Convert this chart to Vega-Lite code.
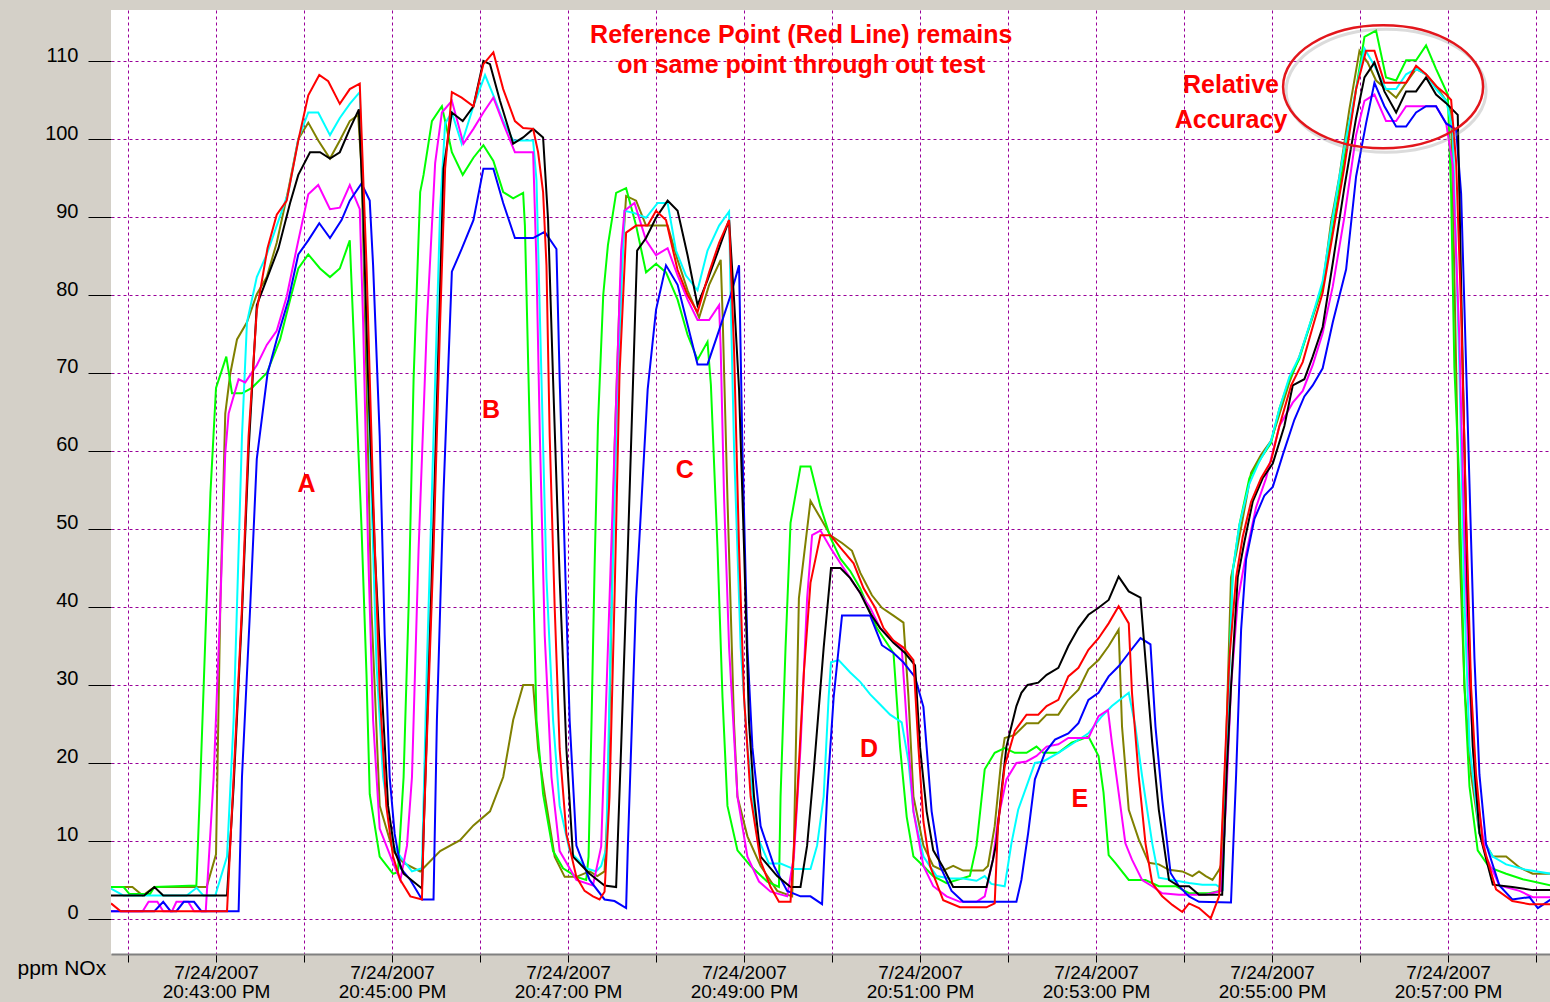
{
"$schema": "https://vega.github.io/schema/vega-lite/v6.json",
"width": 1439, "height": 944,
"autosize": {"type": "none"},
"padding": {"left": 111, "top": 10, "right": 0, "bottom": 48},
"background": "#d4d0c8",
"view": {"fill": "#ffffff", "stroke": null},
"datasets": {
"lines": [
{"c":"olive","t":-11.6,"v":4.1},{"c":"olive","t":3,"v":4.1},{"c":"olive","t":10,"v":3},{"c":"olive","t":18,"v":4.1},{"c":"olive","t":53.6,"v":4.1},{"c":"olive","t":60,"v":8.3},{"c":"olive","t":62.9,"v":40},{"c":"olive","t":66.3,"v":64.8},{"c":"olive","t":69.7,"v":69.9},{"c":"olive","t":74.3,"v":74.3},{"c":"olive","t":81.1,"v":76.5},{"c":"olive","t":87.8,"v":80.1},{"c":"olive","t":94.6,"v":82.3},{"c":"olive","t":101.4,"v":86.7},{"c":"olive","t":109.4,"v":93.6},{"c":"olive","t":116.1,"v":100},{"c":"olive","t":122.9,"v":102.1},{"c":"olive","t":129.7,"v":99.8},{"c":"olive","t":137.7,"v":97.5},{"c":"olive","t":144.4,"v":99.8},{"c":"olive","t":151.2,"v":102.3},{"c":"olive","t":156.9,"v":103.1},{"c":"olive","t":159.2,"v":96.2},{"c":"olive","t":162.6,"v":69.2},{"c":"olive","t":165.9,"v":40},{"c":"olive","t":171.6,"v":14.5},{"c":"olive","t":180.7,"v":8.7},{"c":"olive","t":187.9,"v":7.2},{"c":"olive","t":199.2,"v":6.1},{"c":"olive","t":212.8,"v":8.7},{"c":"olive","t":226.4,"v":10.1},{"c":"olive","t":235.5,"v":12},{"c":"olive","t":246.8,"v":13.8},{"c":"olive","t":255.8,"v":18.2},{"c":"olive","t":262.6,"v":25.5},{"c":"olive","t":269.4,"v":30},{"c":"olive","t":276.2,"v":30},{"c":"olive","t":279.6,"v":21.8},{"c":"olive","t":284.1,"v":16},{"c":"olive","t":290.9,"v":8},{"c":"olive","t":297.7,"v":5.4},{"c":"olive","t":305.7,"v":5.4},{"c":"olive","t":314.7,"v":6.1},{"c":"olive","t":320,"v":5.5},{"c":"olive","t":324.9,"v":6.1},{"c":"olive","t":327.2,"v":15},{"c":"olive","t":331.7,"v":60.3},{"c":"olive","t":335.1,"v":79.4},{"c":"olive","t":339.6,"v":92.7},{"c":"olive","t":346.4,"v":92.1},{"c":"olive","t":353.2,"v":88.9},{"c":"olive","t":367.9,"v":88.9},{"c":"olive","t":374.7,"v":84.5},{"c":"olive","t":381.5,"v":80.6},{"c":"olive","t":389.4,"v":77.1},{"c":"olive","t":396.2,"v":81.3},{"c":"olive","t":404.1,"v":84.5},{"c":"olive","t":405.3,"v":78},{"c":"olive","t":408.7,"v":53.9},{"c":"olive","t":413.2,"v":25},{"c":"olive","t":415.5,"v":15.7},{"c":"olive","t":422.3,"v":10.6},{"c":"olive","t":431.3,"v":6.8},{"c":"olive","t":442.6,"v":3.6},{"c":"olive","t":452.8,"v":2.9},{"c":"olive","t":454,"v":9.4},{"c":"olive","t":457.4,"v":41.1},{"c":"olive","t":465.3,"v":53.6},{"c":"olive","t":472.1,"v":51.4},{"c":"olive","t":478.9,"v":49.2},{"c":"olive","t":486.8,"v":48.2},{"c":"olive","t":493.6,"v":47.2},{"c":"olive","t":499.2,"v":44.4},{"c":"olive","t":507.2,"v":41.5},{"c":"olive","t":514,"v":39.9},{"c":"olive","t":521.9,"v":38.9},{"c":"olive","t":528.7,"v":38},{"c":"olive","t":532.1,"v":28.5},{"c":"olive","t":535.5,"v":15.7},{"c":"olive","t":542.3,"v":9.4},{"c":"olive","t":549,"v":6.8},{"c":"olive","t":555.8,"v":6.2},{"c":"olive","t":562.6,"v":6.8},{"c":"olive","t":569.4,"v":6.2},{"c":"olive","t":583,"v":6.2},{"c":"olive","t":586.3,"v":6.8},{"c":"olive","t":590.9,"v":11.9},{"c":"olive","t":595.4,"v":20.4},{"c":"olive","t":597.7,"v":23.2},{"c":"olive","t":604.6,"v":23.6},{"c":"olive","t":612.6,"v":25.1},{"c":"olive","t":620.6,"v":25.1},{"c":"olive","t":626.3,"v":26.2},{"c":"olive","t":634.3,"v":26.2},{"c":"olive","t":641.1,"v":28.1},{"c":"olive","t":648,"v":29.4},{"c":"olive","t":654.8,"v":32},{"c":"olive","t":661.7,"v":33.2},{"c":"olive","t":668.6,"v":35},{"c":"olive","t":675.4,"v":37.1},{"c":"olive","t":677.7,"v":24.7},{"c":"olive","t":682.3,"v":14},{"c":"olive","t":689.1,"v":10.2},{"c":"olive","t":696,"v":7.2},{"c":"olive","t":702.8,"v":7},{"c":"olive","t":709.7,"v":6.3},{"c":"olive","t":718.8,"v":6.1},{"c":"olive","t":725.7,"v":5.5},{"c":"olive","t":730.2,"v":6.1},{"c":"olive","t":734.8,"v":5.5},{"c":"olive","t":739.4,"v":5},{"c":"olive","t":743.9,"v":6.3},{"c":"olive","t":745.2,"v":6.9},{"c":"olive","t":748.6,"v":22.2},{"c":"olive","t":752,"v":43.8},{"c":"olive","t":755.5,"v":46.8},{"c":"olive","t":760,"v":51.3},{"c":"olive","t":765.7,"v":57.2},{"c":"olive","t":772.5,"v":59.5},{"c":"olive","t":779.3,"v":61.3},{"c":"olive","t":785,"v":64.7},{"c":"olive","t":791.8,"v":68.8},{"c":"olive","t":798.6,"v":72.1},{"c":"olive","t":805.5,"v":75.9},{"c":"olive","t":814.5,"v":81.1},{"c":"olive","t":820.2,"v":89.3},{"c":"olive","t":825.9,"v":95.2},{"c":"olive","t":832.7,"v":103.8},{"c":"olive","t":839.6,"v":111.3},{"c":"olive","t":845.2,"v":109.8},{"c":"olive","t":850.9,"v":107.5},{"c":"olive","t":857.7,"v":106.4},{"c":"olive","t":864.6,"v":105.3},{"c":"olive","t":871.4,"v":107.2},{"c":"olive","t":878.2,"v":109},{"c":"olive","t":885,"v":108.3},{"c":"olive","t":891.8,"v":106.8},{"c":"olive","t":898.7,"v":104.9},{"c":"olive","t":902.1,"v":103.4},{"c":"olive","t":903.2,"v":93},{"c":"olive","t":905.5,"v":70.7},{"c":"olive","t":907.7,"v":48.3},{"c":"olive","t":911.2,"v":29.7},{"c":"olive","t":915.7,"v":18.5},{"c":"olive","t":921.4,"v":11},{"c":"olive","t":930.5,"v":8},{"c":"olive","t":939.6,"v":8},{"c":"olive","t":948.7,"v":6.6},{"c":"olive","t":957.7,"v":5.8},{"c":"olive","t":970,"v":5.8},

{"c":"green","t":-11.6,"v":4.1},{"c":"green","t":-3,"v":4.1},{"c":"green","t":1,"v":3.2},{"c":"green","t":15,"v":3.2},{"c":"green","t":18,"v":4.1},{"c":"green","t":46.6,"v":4.3},{"c":"green","t":49.4,"v":18.2},{"c":"green","t":52.8,"v":36.4},{"c":"green","t":56.2,"v":54.6},{"c":"green","t":60,"v":68.1},{"c":"green","t":67,"v":72.1},{"c":"green","t":70.9,"v":67.4},{"c":"green","t":77.7,"v":67.4},{"c":"green","t":84.5,"v":68.1},{"c":"green","t":94.6,"v":70},{"c":"green","t":103.7,"v":74.3},{"c":"green","t":110.5,"v":79.4},{"c":"green","t":116.1,"v":83.4},{"c":"green","t":122.9,"v":85.2},{"c":"green","t":130.9,"v":83.4},{"c":"green","t":137.7,"v":82.3},{"c":"green","t":144.4,"v":83.4},{"c":"green","t":151.2,"v":87},{"c":"green","t":153.5,"v":76.5},{"c":"green","t":159.2,"v":50.2},{"c":"green","t":162.6,"v":31.3},{"c":"green","t":164.8,"v":16},{"c":"green","t":171.6,"v":8},{"c":"green","t":180.7,"v":5.8},{"c":"green","t":184,"v":6},{"c":"green","t":187.9,"v":18.2},{"c":"green","t":191.3,"v":40},{"c":"green","t":194.7,"v":69.2},{"c":"green","t":199.2,"v":93.2},{"c":"green","t":201.5,"v":95.4},{"c":"green","t":207.2,"v":102.3},{"c":"green","t":214,"v":104.2},{"c":"green","t":220.8,"v":98.3},{"c":"green","t":228.2,"v":95.4},{"c":"green","t":235.5,"v":97.6},{"c":"green","t":242.3,"v":99.2},{"c":"green","t":249.1,"v":97.2},{"c":"green","t":255.8,"v":93.2},{"c":"green","t":262.6,"v":92.4},{"c":"green","t":269.4,"v":93.1},{"c":"green","t":270.6,"v":88.9},{"c":"green","t":274,"v":61.9},{"c":"green","t":276.2,"v":43.7},{"c":"green","t":278.5,"v":25.5},{"c":"green","t":283,"v":16},{"c":"green","t":289.8,"v":8.7},{"c":"green","t":296.6,"v":6.5},{"c":"green","t":305.7,"v":5.4},{"c":"green","t":312.4,"v":5},{"c":"green","t":314,"v":8},{"c":"green","t":316,"v":25},{"c":"green","t":318.1,"v":45},{"c":"green","t":320.4,"v":63.4},{"c":"green","t":324,"v":80},{"c":"green","t":327.2,"v":86.4},{"c":"green","t":332.8,"v":93.1},{"c":"green","t":339.6,"v":93.7},{"c":"green","t":346.4,"v":88.9},{"c":"green","t":353.2,"v":82.9},{"c":"green","t":360,"v":84},{"c":"green","t":366.8,"v":82.9},{"c":"green","t":374.7,"v":79.4},{"c":"green","t":381.5,"v":74.9},{"c":"green","t":388.3,"v":71.7},{"c":"green","t":395.1,"v":74},{"c":"green","t":397.4,"v":68.5},{"c":"green","t":401.9,"v":47.6},{"c":"green","t":405.3,"v":28.5},{"c":"green","t":408.7,"v":14.5},{"c":"green","t":415.5,"v":8.8},{"c":"green","t":424.5,"v":6.8},{"c":"green","t":435.8,"v":4.8},{"c":"green","t":443.8,"v":4.1},{"c":"green","t":444.9,"v":15.7},{"c":"green","t":448.3,"v":34.8},{"c":"green","t":451.7,"v":50.8},{"c":"green","t":458.5,"v":58},{"c":"green","t":465.3,"v":58},{"c":"green","t":472.1,"v":52.9},{"c":"green","t":478.9,"v":48.9},{"c":"green","t":485.7,"v":46.2},{"c":"green","t":492.4,"v":44.6},{"c":"green","t":499.2,"v":42.4},{"c":"green","t":510.6,"v":37.3},{"c":"green","t":521.9,"v":34.1},{"c":"green","t":526.4,"v":22},{"c":"green","t":530.9,"v":13.1},{"c":"green","t":535.5,"v":8},{"c":"green","t":542.3,"v":6.8},{"c":"green","t":549,"v":5.5},{"c":"green","t":558.1,"v":4.6},{"c":"green","t":574,"v":5.5},{"c":"green","t":578.5,"v":9.4},{"c":"green","t":584.1,"v":19.2},{"c":"green","t":590.9,"v":21.3},{"c":"green","t":597.7,"v":21.9},{"c":"green","t":604.6,"v":21.3},{"c":"green","t":612.6,"v":21.3},{"c":"green","t":619.4,"v":22.1},{"c":"green","t":624,"v":21.3},{"c":"green","t":634.3,"v":21.3},{"c":"green","t":643.4,"v":22.6},{"c":"green","t":654.8,"v":23.4},{"c":"green","t":661.7,"v":20.9},{"c":"green","t":665.1,"v":16.2},{"c":"green","t":668.6,"v":8.2},{"c":"green","t":673.1,"v":7.2},{"c":"green","t":682.3,"v":5},{"c":"green","t":693.7,"v":5},{"c":"green","t":702.8,"v":4.2},{"c":"green","t":714.3,"v":4.2},{"c":"green","t":723.4,"v":3.3},{"c":"green","t":737.1,"v":3.3},{"c":"green","t":744.1,"v":3.6},{"c":"green","t":747.5,"v":11},{"c":"green","t":750.9,"v":33.4},{"c":"green","t":753.2,"v":44.6},{"c":"green","t":757.7,"v":50.5},{"c":"green","t":764.5,"v":56.5},{"c":"green","t":772.5,"v":59.1},{"c":"green","t":779.3,"v":61},{"c":"green","t":785,"v":65.4},{"c":"green","t":791.8,"v":69.2},{"c":"green","t":798.6,"v":71.8},{"c":"green","t":807.7,"v":77.4},{"c":"green","t":814.5,"v":81.1},{"c":"green","t":821.4,"v":88.5},{"c":"green","t":829.3,"v":97.5},{"c":"green","t":837.3,"v":106.4},{"c":"green","t":843,"v":113.1},{"c":"green","t":850.9,"v":113.9},{"c":"green","t":857.7,"v":107.9},{"c":"green","t":864.6,"v":107.5},{"c":"green","t":871.4,"v":110.1},{"c":"green","t":878.2,"v":110.1},{"c":"green","t":885,"v":112},{"c":"green","t":891.8,"v":109},{"c":"green","t":899.8,"v":105.7},{"c":"green","t":902.1,"v":93},{"c":"green","t":904.3,"v":70.7},{"c":"green","t":907.7,"v":55.8},{"c":"green","t":911.2,"v":29.7},{"c":"green","t":914.6,"v":17},{"c":"green","t":920.2,"v":8.8},{"c":"green","t":928.2,"v":6.6},{"c":"green","t":939.6,"v":5.8},{"c":"green","t":950.9,"v":5.1},{"c":"green","t":970,"v":4.3},

{"c":"cyan","t":-11.6,"v":3.9},{"c":"cyan","t":-3,"v":3},{"c":"cyan","t":40,"v":3},{"c":"cyan","t":46.8,"v":4},{"c":"cyan","t":51.4,"v":3},{"c":"cyan","t":59.5,"v":3},{"c":"cyan","t":67.5,"v":8},{"c":"cyan","t":72,"v":25.5},{"c":"cyan","t":77.7,"v":61.9},{"c":"cyan","t":81.1,"v":76.5},{"c":"cyan","t":87.8,"v":82.3},{"c":"cyan","t":94.6,"v":85.2},{"c":"cyan","t":101.4,"v":88.9},{"c":"cyan","t":109.4,"v":93.2},{"c":"cyan","t":116.1,"v":100},{"c":"cyan","t":122.9,"v":103.4},{"c":"cyan","t":129.7,"v":103.4},{"c":"cyan","t":137.7,"v":100.5},{"c":"cyan","t":144.4,"v":102.7},{"c":"cyan","t":151.2,"v":104.5},{"c":"cyan","t":158,"v":106},{"c":"cyan","t":160.3,"v":91},{"c":"cyan","t":164.8,"v":61.9},{"c":"cyan","t":169.4,"v":32.7},{"c":"cyan","t":173.9,"v":18.2},{"c":"cyan","t":180.7,"v":9.4},{"c":"cyan","t":185.7,"v":8},{"c":"cyan","t":193.6,"v":6.1},{"c":"cyan","t":200.4,"v":6.5},{"c":"cyan","t":203.8,"v":32.7},{"c":"cyan","t":208.3,"v":61.9},{"c":"cyan","t":212.8,"v":91},{"c":"cyan","t":216.2,"v":102},{"c":"cyan","t":220.8,"v":103.4},{"c":"cyan","t":227.5,"v":99.4},{"c":"cyan","t":235.5,"v":104.2},{"c":"cyan","t":243.4,"v":108.2},{"c":"cyan","t":249.1,"v":105.6},{"c":"cyan","t":255.8,"v":102.3},{"c":"cyan","t":262.6,"v":99.8},{"c":"cyan","t":276.2,"v":99.8},{"c":"cyan","t":278.5,"v":94.7},{"c":"cyan","t":281.9,"v":69.2},{"c":"cyan","t":285.3,"v":43.7},{"c":"cyan","t":289.8,"v":25.5},{"c":"cyan","t":294.3,"v":14.5},{"c":"cyan","t":301.1,"v":8.7},{"c":"cyan","t":312.4,"v":6.5},{"c":"cyan","t":319.2,"v":6.1},{"c":"cyan","t":322.6,"v":6.8},{"c":"cyan","t":326,"v":9},{"c":"cyan","t":329,"v":35},{"c":"cyan","t":334,"v":69},{"c":"cyan","t":338.5,"v":90.8},{"c":"cyan","t":345.3,"v":90.5},{"c":"cyan","t":353.2,"v":89.9},{"c":"cyan","t":361.1,"v":91.8},{"c":"cyan","t":367.9,"v":91.8},{"c":"cyan","t":373.6,"v":85.7},{"c":"cyan","t":380.4,"v":82.5},{"c":"cyan","t":388.3,"v":80.6},{"c":"cyan","t":395.1,"v":85.7},{"c":"cyan","t":403,"v":88.9},{"c":"cyan","t":409.8,"v":90.7},{"c":"cyan","t":410.9,"v":79.4},{"c":"cyan","t":413.2,"v":60.3},{"c":"cyan","t":417.7,"v":34.8},{"c":"cyan","t":422.3,"v":22},{"c":"cyan","t":429,"v":10.6},{"c":"cyan","t":437,"v":7.1},{"c":"cyan","t":444.9,"v":7.1},{"c":"cyan","t":454,"v":6.4},{"c":"cyan","t":465.3,"v":6.4},{"c":"cyan","t":469.8,"v":9.4},{"c":"cyan","t":474.3,"v":15.7},{"c":"cyan","t":477.7,"v":28.5},{"c":"cyan","t":479.3,"v":32.9},{"c":"cyan","t":484.5,"v":33.2},{"c":"cyan","t":492.4,"v":31.6},{"c":"cyan","t":499.2,"v":30.4},{"c":"cyan","t":506,"v":28.8},{"c":"cyan","t":512.8,"v":27.5},{"c":"cyan","t":519.6,"v":26.2},{"c":"cyan","t":527.5,"v":25.2},{"c":"cyan","t":532.1,"v":20.2},{"c":"cyan","t":535.5,"v":13.8},{"c":"cyan","t":542.3,"v":8},{"c":"cyan","t":551.3,"v":5.5},{"c":"cyan","t":560.4,"v":5.2},{"c":"cyan","t":569.4,"v":5.2},{"c":"cyan","t":578.5,"v":4.9},{"c":"cyan","t":584.1,"v":5.5},{"c":"cyan","t":588.6,"v":4.5},{"c":"cyan","t":597.7,"v":4.2},{"c":"cyan","t":602.3,"v":9.7},{"c":"cyan","t":606.9,"v":14},{"c":"cyan","t":612.6,"v":17},{"c":"cyan","t":618.3,"v":20},{"c":"cyan","t":624,"v":20.2},{"c":"cyan","t":634.3,"v":21.3},{"c":"cyan","t":643.4,"v":22.4},{"c":"cyan","t":654.8,"v":23.8},{"c":"cyan","t":664,"v":26},{"c":"cyan","t":670.8,"v":27.3},{"c":"cyan","t":682.3,"v":29},{"c":"cyan","t":686.8,"v":24.7},{"c":"cyan","t":691.4,"v":18.3},{"c":"cyan","t":698.3,"v":9.7},{"c":"cyan","t":702.8,"v":5.3},{"c":"cyan","t":712,"v":5},{"c":"cyan","t":723.4,"v":4.6},{"c":"cyan","t":732.5,"v":4.4},{"c":"cyan","t":741.7,"v":4.4},{"c":"cyan","t":746.4,"v":3.8},{"c":"cyan","t":749.8,"v":26},{"c":"cyan","t":753.2,"v":44.6},{"c":"cyan","t":757.7,"v":50.5},{"c":"cyan","t":764.5,"v":55.8},{"c":"cyan","t":771.4,"v":58.7},{"c":"cyan","t":779.3,"v":61.3},{"c":"cyan","t":785,"v":65.4},{"c":"cyan","t":791.8,"v":69.5},{"c":"cyan","t":798.6,"v":72.1},{"c":"cyan","t":807.7,"v":77.4},{"c":"cyan","t":814.5,"v":81.8},{"c":"cyan","t":821.4,"v":90},{"c":"cyan","t":829.3,"v":99},{"c":"cyan","t":837.3,"v":106.4},{"c":"cyan","t":843,"v":111.6},{"c":"cyan","t":849.8,"v":109.4},{"c":"cyan","t":857.7,"v":106.4},{"c":"cyan","t":864.6,"v":106.4},{"c":"cyan","t":871.4,"v":108.3},{"c":"cyan","t":878.2,"v":109},{"c":"cyan","t":885,"v":108.3},{"c":"cyan","t":891.8,"v":106.4},{"c":"cyan","t":898.7,"v":104.9},{"c":"cyan","t":903.2,"v":101.2},{"c":"cyan","t":907.7,"v":70.7},{"c":"cyan","t":911.2,"v":40.8},{"c":"cyan","t":914.6,"v":22.2},{"c":"cyan","t":921.4,"v":11},{"c":"cyan","t":930.5,"v":8},{"c":"cyan","t":939.6,"v":7},{"c":"cyan","t":953.2,"v":6.3},{"c":"cyan","t":970,"v":5.8},

{"c":"magenta","t":-11.6,"v":1},{"c":"magenta","t":10,"v":1},{"c":"magenta","t":14,"v":2.2},{"c":"magenta","t":20,"v":2.2},{"c":"magenta","t":24,"v":1},{"c":"magenta","t":30,"v":1},{"c":"magenta","t":33,"v":2.2},{"c":"magenta","t":41,"v":2.2},{"c":"magenta","t":45,"v":1},{"c":"magenta","t":53,"v":1},{"c":"magenta","t":58.4,"v":18.2},{"c":"magenta","t":62.9,"v":40},{"c":"magenta","t":66.3,"v":59.7},{"c":"magenta","t":68.6,"v":64.8},{"c":"magenta","t":75.4,"v":69.2},{"c":"magenta","t":79.9,"v":68.8},{"c":"magenta","t":87.8,"v":71},{"c":"magenta","t":94.6,"v":73.6},{"c":"magenta","t":101.4,"v":75.4},{"c":"magenta","t":108.2,"v":79.8},{"c":"magenta","t":115,"v":86},{"c":"magenta","t":122.9,"v":92.9},{"c":"magenta","t":129.7,"v":94.1},{"c":"magenta","t":137.7,"v":91},{"c":"magenta","t":144.4,"v":91.2},{"c":"magenta","t":151.2,"v":94.1},{"c":"magenta","t":158,"v":91},{"c":"magenta","t":160.3,"v":76.5},{"c":"magenta","t":163.7,"v":47.3},{"c":"magenta","t":167.1,"v":25.5},{"c":"magenta","t":171.6,"v":11.6},{"c":"magenta","t":180.7,"v":7.2},{"c":"magenta","t":185.7,"v":5},{"c":"magenta","t":190.2,"v":9.4},{"c":"magenta","t":193.6,"v":18.2},{"c":"magenta","t":198.1,"v":47.3},{"c":"magenta","t":203.8,"v":76.5},{"c":"magenta","t":209.4,"v":96.9},{"c":"magenta","t":214,"v":103.4},{"c":"magenta","t":220.8,"v":104.9},{"c":"magenta","t":228.7,"v":99.4},{"c":"magenta","t":235.5,"v":101.3},{"c":"magenta","t":242.3,"v":103.4},{"c":"magenta","t":249.1,"v":105.3},{"c":"magenta","t":255.8,"v":102},{"c":"magenta","t":263.8,"v":98.3},{"c":"magenta","t":276.2,"v":98.3},{"c":"magenta","t":278.5,"v":83.8},{"c":"magenta","t":280.8,"v":61.9},{"c":"magenta","t":284.1,"v":36.4},{"c":"magenta","t":288.7,"v":18.2},{"c":"magenta","t":294.3,"v":8.7},{"c":"magenta","t":305.7,"v":5},{"c":"magenta","t":317,"v":4.3},{"c":"magenta","t":322.6,"v":9.3},{"c":"magenta","t":327.2,"v":34.8},{"c":"magenta","t":331.7,"v":60.3},{"c":"magenta","t":336.2,"v":85.7},{"c":"magenta","t":338.5,"v":90.8},{"c":"magenta","t":345.3,"v":91.8},{"c":"magenta","t":353.2,"v":87},{"c":"magenta","t":360,"v":85.1},{"c":"magenta","t":367.9,"v":86},{"c":"magenta","t":374.7,"v":82.5},{"c":"magenta","t":381.5,"v":79.4},{"c":"magenta","t":388.3,"v":76.8},{"c":"magenta","t":396.2,"v":76.8},{"c":"magenta","t":403,"v":78.7},{"c":"magenta","t":404.1,"v":73},{"c":"magenta","t":406.4,"v":53.9},{"c":"magenta","t":409.8,"v":34.8},{"c":"magenta","t":415.5,"v":15.7},{"c":"magenta","t":422.3,"v":8},{"c":"magenta","t":430.2,"v":4.8},{"c":"magenta","t":438.1,"v":3.5},{"c":"magenta","t":449.4,"v":2.9},{"c":"magenta","t":454,"v":8},{"c":"magenta","t":458.5,"v":22},{"c":"magenta","t":463,"v":41.1},{"c":"magenta","t":466.4,"v":49.2},{"c":"magenta","t":472.1,"v":49.8},{"c":"magenta","t":478.9,"v":47.6},{"c":"magenta","t":485.7,"v":45.6},{"c":"magenta","t":492.4,"v":43.7},{"c":"magenta","t":499.2,"v":41.8},{"c":"magenta","t":506,"v":39.9},{"c":"magenta","t":512.8,"v":37.3},{"c":"magenta","t":519.6,"v":36},{"c":"magenta","t":527.5,"v":34.8},{"c":"magenta","t":530.9,"v":25.2},{"c":"magenta","t":535.5,"v":13.8},{"c":"magenta","t":542.3,"v":6.8},{"c":"magenta","t":549,"v":4.2},{"c":"magenta","t":558.1,"v":2.9},{"c":"magenta","t":567.2,"v":2.2},{"c":"magenta","t":578.5,"v":2.2},{"c":"magenta","t":584.1,"v":2.9},{"c":"magenta","t":589.7,"v":7.6},{"c":"magenta","t":593.1,"v":12.7},{"c":"magenta","t":598.9,"v":17.9},{"c":"magenta","t":605.7,"v":20},{"c":"magenta","t":612.6,"v":20.2},{"c":"magenta","t":619.4,"v":20.9},{"c":"magenta","t":626.3,"v":22.1},{"c":"magenta","t":634.3,"v":22.4},{"c":"magenta","t":641.1,"v":23.2},{"c":"magenta","t":654.8,"v":23.2},{"c":"magenta","t":661.7,"v":26},{"c":"magenta","t":668.1,"v":26.8},{"c":"magenta","t":670.8,"v":22.6},{"c":"magenta","t":675.4,"v":16.2},{"c":"magenta","t":680,"v":9.7},{"c":"magenta","t":684.5,"v":7.6},{"c":"magenta","t":691.4,"v":5},{"c":"magenta","t":698.3,"v":4.2},{"c":"magenta","t":705.1,"v":3.3},{"c":"magenta","t":716.5,"v":3.1},{"c":"magenta","t":734.8,"v":3.1},{"c":"magenta","t":745.2,"v":3.6},{"c":"magenta","t":748.6,"v":14.8},{"c":"magenta","t":752,"v":29.7},{"c":"magenta","t":756.6,"v":40.8},{"c":"magenta","t":762.3,"v":46.8},{"c":"magenta","t":769.1,"v":52.8},{"c":"magenta","t":775.9,"v":56.5},{"c":"magenta","t":785,"v":63.2},{"c":"magenta","t":794.1,"v":66.2},{"c":"magenta","t":800.9,"v":67.7},{"c":"magenta","t":807.7,"v":71},{"c":"magenta","t":814.5,"v":75.1},{"c":"magenta","t":821.4,"v":81.1},{"c":"magenta","t":829.3,"v":90},{"c":"magenta","t":837.3,"v":100.5},{"c":"magenta","t":843,"v":104.9},{"c":"magenta","t":849.8,"v":105.7},{"c":"magenta","t":857.7,"v":102.3},{"c":"magenta","t":864.6,"v":102.3},{"c":"magenta","t":871.4,"v":104.2},{"c":"magenta","t":891.8,"v":104.2},{"c":"magenta","t":898.7,"v":102},{"c":"magenta","t":903.2,"v":96.7},{"c":"magenta","t":907.7,"v":74.4},{"c":"magenta","t":911.2,"v":48.3},{"c":"magenta","t":914.6,"v":29.7},{"c":"magenta","t":919.1,"v":16.3},{"c":"magenta","t":925.9,"v":8},{"c":"magenta","t":935,"v":4.3},{"c":"magenta","t":948.7,"v":3.6},{"c":"magenta","t":957.7,"v":2.8},{"c":"magenta","t":970,"v":2.8},

{"c":"blue","t":-11.6,"v":1},{"c":"blue","t":18,"v":1},{"c":"blue","t":24,"v":2.2},{"c":"blue","t":29,"v":1},{"c":"blue","t":33,"v":1},{"c":"blue","t":38,"v":2.2},{"c":"blue","t":45,"v":2.2},{"c":"blue","t":50,"v":1},{"c":"blue","t":75.4,"v":1},{"c":"blue","t":77.7,"v":18.2},{"c":"blue","t":83.3,"v":40},{"c":"blue","t":87.8,"v":59},{"c":"blue","t":95.1,"v":69.9},{"c":"blue","t":101.4,"v":74.3},{"c":"blue","t":109.4,"v":79.4},{"c":"blue","t":116.1,"v":85.2},{"c":"blue","t":122.9,"v":87},{"c":"blue","t":130.4,"v":89.2},{"c":"blue","t":137.7,"v":87.3},{"c":"blue","t":145.6,"v":89.6},{"c":"blue","t":151.2,"v":92.1},{"c":"blue","t":159.2,"v":94.3},{"c":"blue","t":164.8,"v":92.1},{"c":"blue","t":167.1,"v":83.8},{"c":"blue","t":171.6,"v":61.9},{"c":"blue","t":175,"v":36.4},{"c":"blue","t":178.4,"v":18.2},{"c":"blue","t":181.8,"v":10.9},{"c":"blue","t":186,"v":6.5},{"c":"blue","t":192.5,"v":5},{"c":"blue","t":200.4,"v":2.5},{"c":"blue","t":208.3,"v":2.5},{"c":"blue","t":210.6,"v":25.5},{"c":"blue","t":215.1,"v":54.6},{"c":"blue","t":220.8,"v":83},{"c":"blue","t":227.5,"v":85.9},{"c":"blue","t":235.5,"v":89.6},{"c":"blue","t":242.3,"v":96.2},{"c":"blue","t":249.1,"v":96.2},{"c":"blue","t":255.8,"v":91.8},{"c":"blue","t":263.8,"v":87.3},{"c":"blue","t":276.2,"v":87.3},{"c":"blue","t":284.1,"v":88.1},{"c":"blue","t":292.1,"v":85.9},{"c":"blue","t":294.3,"v":69.2},{"c":"blue","t":297.7,"v":47.3},{"c":"blue","t":301.1,"v":25.5},{"c":"blue","t":305.7,"v":9.4},{"c":"blue","t":314.7,"v":5},{"c":"blue","t":324.9,"v":2.5},{"c":"blue","t":331.7,"v":2.3},{"c":"blue","t":339.6,"v":1.4},{"c":"blue","t":340.8,"v":9.4},{"c":"blue","t":346.4,"v":41.1},{"c":"blue","t":354.3,"v":67.9},{"c":"blue","t":360,"v":78.1},{"c":"blue","t":366.8,"v":83.8},{"c":"blue","t":374.7,"v":81.3},{"c":"blue","t":381.5,"v":76.2},{"c":"blue","t":388.3,"v":71.1},{"c":"blue","t":395.1,"v":71.1},{"c":"blue","t":403,"v":75.5},{"c":"blue","t":410.9,"v":80},{"c":"blue","t":416.6,"v":83.8},{"c":"blue","t":418.9,"v":60.3},{"c":"blue","t":422.3,"v":34.8},{"c":"blue","t":425.7,"v":22},{"c":"blue","t":431.3,"v":11.9},{"c":"blue","t":440.4,"v":6.8},{"c":"blue","t":449.4,"v":3.6},{"c":"blue","t":458.5,"v":2.9},{"c":"blue","t":465.3,"v":2.9},{"c":"blue","t":473.2,"v":1.9},{"c":"blue","t":476.6,"v":15.7},{"c":"blue","t":481.1,"v":28.4},{"c":"blue","t":486.8,"v":38.9},{"c":"blue","t":506,"v":38.9},{"c":"blue","t":514,"v":35.1},{"c":"blue","t":521.9,"v":34.1},{"c":"blue","t":528.7,"v":32.9},{"c":"blue","t":536.6,"v":31},{"c":"blue","t":542.3,"v":27.2},{"c":"blue","t":544.5,"v":22},{"c":"blue","t":547.9,"v":13.8},{"c":"blue","t":553.6,"v":6.8},{"c":"blue","t":561.5,"v":3.6},{"c":"blue","t":569.4,"v":2.2},{"c":"blue","t":605.7,"v":2.2},{"c":"blue","t":609.1,"v":5},{"c":"blue","t":613.7,"v":11},{"c":"blue","t":618.3,"v":17.9},{"c":"blue","t":625.1,"v":21.3},{"c":"blue","t":632,"v":23},{"c":"blue","t":641.1,"v":23.8},{"c":"blue","t":648,"v":25.1},{"c":"blue","t":654.8,"v":28.1},{"c":"blue","t":661.7,"v":29},{"c":"blue","t":668.6,"v":31.1},{"c":"blue","t":675.4,"v":32.4},{"c":"blue","t":682.3,"v":34.1},{"c":"blue","t":690.3,"v":36},{"c":"blue","t":697.1,"v":35.2},{"c":"blue","t":700.5,"v":24.7},{"c":"blue","t":705.1,"v":15.3},{"c":"blue","t":710.8,"v":5.9},{"c":"blue","t":716.5,"v":4.2},{"c":"blue","t":723.4,"v":2.9},{"c":"blue","t":730.2,"v":2.2},{"c":"blue","t":752,"v":2.1},{"c":"blue","t":755.5,"v":18.5},{"c":"blue","t":758.9,"v":37.1},{"c":"blue","t":762.3,"v":46.1},{"c":"blue","t":768,"v":51.3},{"c":"blue","t":774.8,"v":54.3},{"c":"blue","t":780.5,"v":55.4},{"c":"blue","t":787.3,"v":59.5},{"c":"blue","t":795.2,"v":64},{"c":"blue","t":802,"v":67},{"c":"blue","t":807.7,"v":68.4},{"c":"blue","t":814.5,"v":70.6},{"c":"blue","t":821.4,"v":76.5},{"c":"blue","t":830.5,"v":83.3},{"c":"blue","t":837.3,"v":95.2},{"c":"blue","t":844.1,"v":102},{"c":"blue","t":849.8,"v":107.2},{"c":"blue","t":856.6,"v":104.2},{"c":"blue","t":864.6,"v":101.6},{"c":"blue","t":871.4,"v":101.6},{"c":"blue","t":878.2,"v":103.4},{"c":"blue","t":885,"v":104.2},{"c":"blue","t":891.8,"v":104.2},{"c":"blue","t":898.7,"v":102},{"c":"blue","t":905.5,"v":101.2},{"c":"blue","t":908.9,"v":93},{"c":"blue","t":911.2,"v":78.1},{"c":"blue","t":914.6,"v":55.8},{"c":"blue","t":918,"v":33.4},{"c":"blue","t":921.4,"v":18.5},{"c":"blue","t":925.9,"v":9.6},{"c":"blue","t":935,"v":4.3},{"c":"blue","t":943.8,"v":2.5},{"c":"blue","t":955.5,"v":2.8},{"c":"blue","t":961.2,"v":1.4},{"c":"blue","t":970,"v":2.5},

{"c":"black","t":-11.6,"v":3},{"c":"black","t":11,"v":3},{"c":"black","t":18,"v":4.1},{"c":"black","t":24,"v":3},{"c":"black","t":67.5,"v":3},{"c":"black","t":72,"v":17},{"c":"black","t":77.7,"v":39},{"c":"black","t":82.2,"v":60},{"c":"black","t":87.8,"v":78.7},{"c":"black","t":95.1,"v":82.3},{"c":"black","t":102.6,"v":86},{"c":"black","t":110.5,"v":91.8},{"c":"black","t":116.1,"v":95.4},{"c":"black","t":124.1,"v":98.3},{"c":"black","t":130.9,"v":98.3},{"c":"black","t":137.7,"v":97.5},{"c":"black","t":144.4,"v":98.3},{"c":"black","t":151.2,"v":101.3},{"c":"black","t":157.4,"v":103.8},{"c":"black","t":160.3,"v":91},{"c":"black","t":163.7,"v":69.2},{"c":"black","t":168.2,"v":47.3},{"c":"black","t":172.7,"v":30.6},{"c":"black","t":177.3,"v":14.5},{"c":"black","t":181.8,"v":8.7},{"c":"black","t":187.9,"v":5.8},{"c":"black","t":200.4,"v":3.9},{"c":"black","t":201.5,"v":10.9},{"c":"black","t":208.3,"v":51},{"c":"black","t":215.1,"v":96.2},{"c":"black","t":220.8,"v":103.4},{"c":"black","t":228.2,"v":102.3},{"c":"black","t":235.5,"v":104.2},{"c":"black","t":242.3,"v":110},{"c":"black","t":246.8,"v":109.6},{"c":"black","t":253.6,"v":104.9},{"c":"black","t":262.6,"v":99.4},{"c":"black","t":269.4,"v":100.2},{"c":"black","t":276.2,"v":101.3},{"c":"black","t":283,"v":100.2},{"c":"black","t":286.4,"v":89.6},{"c":"black","t":289.8,"v":69.2},{"c":"black","t":294.3,"v":43.7},{"c":"black","t":298.9,"v":21.8},{"c":"black","t":303.4,"v":8},{"c":"black","t":314.7,"v":5.8},{"c":"black","t":324.9,"v":4.3},{"c":"black","t":332.8,"v":4.1},{"c":"black","t":336.2,"v":22},{"c":"black","t":340.8,"v":47.6},{"c":"black","t":347.1,"v":85.7},{"c":"black","t":353.2,"v":87.3},{"c":"black","t":360,"v":89.9},{"c":"black","t":367.9,"v":92.1},{"c":"black","t":374.7,"v":90.8},{"c":"black","t":381.5,"v":85.1},{"c":"black","t":388.3,"v":78.7},{"c":"black","t":395.1,"v":81.9},{"c":"black","t":403,"v":86},{"c":"black","t":409.8,"v":89.6},{"c":"black","t":413.2,"v":79.4},{"c":"black","t":416.6,"v":67.9},{"c":"black","t":420,"v":47.6},{"c":"black","t":423.4,"v":25.2},{"c":"black","t":426.8,"v":15.7},{"c":"black","t":431.3,"v":8},{"c":"black","t":442.6,"v":5.5},{"c":"black","t":451.7,"v":4.1},{"c":"black","t":458.5,"v":4.1},{"c":"black","t":463,"v":9.4},{"c":"black","t":467.5,"v":18.9},{"c":"black","t":474.3,"v":34.8},{"c":"black","t":479.3,"v":45},{"c":"black","t":485.7,"v":45},{"c":"black","t":492.4,"v":43.7},{"c":"black","t":499.2,"v":41.8},{"c":"black","t":506,"v":39.2},{"c":"black","t":512.8,"v":37.3},{"c":"black","t":521.9,"v":35.4},{"c":"black","t":529.8,"v":34.1},{"c":"black","t":536.6,"v":32.5},{"c":"black","t":540,"v":22},{"c":"black","t":544.5,"v":13.8},{"c":"black","t":549,"v":8.8},{"c":"black","t":555.8,"v":6.6},{"c":"black","t":562.6,"v":4.1},{"c":"black","t":585.3,"v":4.1},{"c":"black","t":589.7,"v":7.6},{"c":"black","t":592,"v":9.7},{"c":"black","t":595.4,"v":16.2},{"c":"black","t":598.9,"v":22.1},{"c":"black","t":602.3,"v":24.7},{"c":"black","t":605.7,"v":27.3},{"c":"black","t":609.1,"v":29},{"c":"black","t":613.3,"v":30},{"c":"black","t":620.6,"v":30.3},{"c":"black","t":626.3,"v":31.3},{"c":"black","t":634.3,"v":32.2},{"c":"black","t":641.1,"v":35},{"c":"black","t":648,"v":37.3},{"c":"black","t":654.8,"v":39},{"c":"black","t":661.7,"v":39.9},{"c":"black","t":668.6,"v":40.9},{"c":"black","t":675.4,"v":43.9},{"c":"black","t":682.3,"v":42},{"c":"black","t":690.3,"v":41.2},{"c":"black","t":693.7,"v":33.2},{"c":"black","t":698.3,"v":22.6},{"c":"black","t":702.8,"v":14},{"c":"black","t":709.7,"v":5},{"c":"black","t":716.5,"v":4.2},{"c":"black","t":723.4,"v":4.2},{"c":"black","t":730.2,"v":3.1},{"c":"black","t":746,"v":3.1},{"c":"black","t":749,"v":18.5},{"c":"black","t":752,"v":29.7},{"c":"black","t":756.6,"v":43.8},{"c":"black","t":761.1,"v":48.3},{"c":"black","t":766.8,"v":53.5},{"c":"black","t":773.6,"v":56.5},{"c":"black","t":780.5,"v":58.4},{"c":"black","t":788.4,"v":63.2},{"c":"black","t":794.1,"v":68.4},{"c":"black","t":802,"v":69.2},{"c":"black","t":807.7,"v":72.1},{"c":"black","t":814.5,"v":75.9},{"c":"black","t":821.4,"v":84.1},{"c":"black","t":829.3,"v":93.8},{"c":"black","t":837.3,"v":102.7},{"c":"black","t":843,"v":107.9},{"c":"black","t":849.8,"v":109.8},{"c":"black","t":856.6,"v":106.1},{"c":"black","t":864.6,"v":103.4},{"c":"black","t":871.4,"v":106.1},{"c":"black","t":878.2,"v":106.1},{"c":"black","t":885,"v":107.9},{"c":"black","t":891.8,"v":105.7},{"c":"black","t":898.7,"v":104.6},{"c":"black","t":906.6,"v":103.1},{"c":"black","t":907.7,"v":93},{"c":"black","t":910,"v":70.7},{"c":"black","t":913.4,"v":40.8},{"c":"black","t":916.8,"v":22.2},{"c":"black","t":921.4,"v":11},{"c":"black","t":930.5,"v":4.4},{"c":"black","t":943.8,"v":4.1},{"c":"black","t":957.7,"v":3.7},{"c":"black","t":970,"v":3.7},

{"c":"red","t":-11.6,"v":2},{"c":"red","t":-5,"v":1},{"c":"red","t":67.5,"v":1},{"c":"red","t":72,"v":18.2},{"c":"red","t":77.7,"v":40},{"c":"red","t":82.2,"v":61.9},{"c":"red","t":87.8,"v":78},{"c":"red","t":95.1,"v":86},{"c":"red","t":101.4,"v":90.3},{"c":"red","t":108.2,"v":92.1},{"c":"red","t":116.1,"v":99.8},{"c":"red","t":122.9,"v":105.6},{"c":"red","t":130.4,"v":108.2},{"c":"red","t":136.5,"v":107.4},{"c":"red","t":144.4,"v":104.5},{"c":"red","t":151.2,"v":106.4},{"c":"red","t":158,"v":107.1},{"c":"red","t":159.2,"v":101},{"c":"red","t":162.6,"v":83.8},{"c":"red","t":167.1,"v":54.6},{"c":"red","t":171.6,"v":29.1},{"c":"red","t":176.1,"v":14.5},{"c":"red","t":180.7,"v":8},{"c":"red","t":185.7,"v":5},{"c":"red","t":192.5,"v":2.9},{"c":"red","t":200.4,"v":2.5},{"c":"red","t":201.5,"v":10.9},{"c":"red","t":208.3,"v":47.3},{"c":"red","t":212.8,"v":76.5},{"c":"red","t":216.2,"v":96.2},{"c":"red","t":220.8,"v":106},{"c":"red","t":227.5,"v":105.3},{"c":"red","t":235.5,"v":104.2},{"c":"red","t":242.3,"v":109.6},{"c":"red","t":249.1,"v":111.1},{"c":"red","t":255.8,"v":106.4},{"c":"red","t":263.8,"v":102.3},{"c":"red","t":269.4,"v":101.4},{"c":"red","t":276.2,"v":101.3},{"c":"red","t":279.6,"v":98.3},{"c":"red","t":283,"v":93.2},{"c":"red","t":285.3,"v":83.8},{"c":"red","t":287.5,"v":61.9},{"c":"red","t":290.9,"v":40},{"c":"red","t":294.3,"v":21.8},{"c":"red","t":298.9,"v":10.9},{"c":"red","t":305.7,"v":5.4},{"c":"red","t":311.3,"v":3.6},{"c":"red","t":317,"v":2.9},{"c":"red","t":321.5,"v":2.5},{"c":"red","t":324.9,"v":3.5},{"c":"red","t":328.3,"v":15.7},{"c":"red","t":331.7,"v":41.1},{"c":"red","t":335.1,"v":69.8},{"c":"red","t":339.6,"v":88},{"c":"red","t":346.4,"v":88.9},{"c":"red","t":354.3,"v":88.9},{"c":"red","t":360,"v":90.8},{"c":"red","t":366.8,"v":89.6},{"c":"red","t":374.7,"v":83.2},{"c":"red","t":381.5,"v":80},{"c":"red","t":388.3,"v":77.8},{"c":"red","t":396.2,"v":82.9},{"c":"red","t":403,"v":86.7},{"c":"red","t":409.8,"v":89.6},{"c":"red","t":413.2,"v":73},{"c":"red","t":416.6,"v":47.5},{"c":"red","t":420,"v":28.4},{"c":"red","t":424.5,"v":15.7},{"c":"red","t":431.3,"v":7.4},{"c":"red","t":438.1,"v":4.1},{"c":"red","t":443.8,"v":2.2},{"c":"red","t":451.7,"v":2.2},{"c":"red","t":456.2,"v":15.7},{"c":"red","t":460.8,"v":31.6},{"c":"red","t":465.3,"v":43.1},{"c":"red","t":472.1,"v":49.2},{"c":"red","t":478.9,"v":49.2},{"c":"red","t":485.7,"v":47.6},{"c":"red","t":494.7,"v":45.6},{"c":"red","t":501.5,"v":42.4},{"c":"red","t":509.4,"v":39.9},{"c":"red","t":515.1,"v":37.3},{"c":"red","t":521.9,"v":35.7},{"c":"red","t":528.7,"v":34.8},{"c":"red","t":535.5,"v":33.2},{"c":"red","t":538.9,"v":22},{"c":"red","t":542.3,"v":12.5},{"c":"red","t":546.8,"v":6.8},{"c":"red","t":555.8,"v":2.4},{"c":"red","t":567.2,"v":1.5},{"c":"red","t":585.3,"v":1.5},{"c":"red","t":590.9,"v":2},{"c":"red","t":593.1,"v":11.9},{"c":"red","t":597.7,"v":19.6},{"c":"red","t":604.6,"v":24.1},{"c":"red","t":612.6,"v":26.2},{"c":"red","t":620.6,"v":26.2},{"c":"red","t":626.3,"v":27.3},{"c":"red","t":634.3,"v":28.1},{"c":"red","t":641.1,"v":31.1},{"c":"red","t":648,"v":32.2},{"c":"red","t":654.8,"v":34.5},{"c":"red","t":661.7,"v":36},{"c":"red","t":668.6,"v":37.9},{"c":"red","t":675.4,"v":40.1},{"c":"red","t":682.3,"v":37.9},{"c":"red","t":684.5,"v":29},{"c":"red","t":689.1,"v":18.3},{"c":"red","t":693.7,"v":9.7},{"c":"red","t":698.3,"v":4.6},{"c":"red","t":705.1,"v":2.9},{"c":"red","t":712,"v":1.8},{"c":"red","t":718.8,"v":0.9},{"c":"red","t":723.4,"v":2},{"c":"red","t":730.2,"v":1.4},{"c":"red","t":738.2,"v":0.1},{"c":"red","t":743.9,"v":2.9},{"c":"red","t":747.5,"v":18.5},{"c":"red","t":750.9,"v":33.4},{"c":"red","t":755.5,"v":43.8},{"c":"red","t":760,"v":49},{"c":"red","t":765.7,"v":53.5},{"c":"red","t":772.5,"v":56.5},{"c":"red","t":779.3,"v":58.7},{"c":"red","t":785,"v":63.2},{"c":"red","t":793,"v":68.4},{"c":"red","t":800.9,"v":71.4},{"c":"red","t":807.7,"v":75.9},{"c":"red","t":814.5,"v":80.3},{"c":"red","t":821.4,"v":87.8},{"c":"red","t":829.3,"v":96.4},{"c":"red","t":837.3,"v":106.4},{"c":"red","t":844.1,"v":111.3},{"c":"red","t":849.8,"v":111.3},{"c":"red","t":856.6,"v":107.2},{"c":"red","t":871.4,"v":107.2},{"c":"red","t":878.2,"v":109.4},{"c":"red","t":885,"v":108.3},{"c":"red","t":891.8,"v":106.8},{"c":"red","t":898.7,"v":105.7},{"c":"red","t":902.1,"v":105},{"c":"red","t":905.5,"v":97},{"c":"red","t":908.9,"v":78.1},{"c":"red","t":912.3,"v":52},{"c":"red","t":915.7,"v":29.7},{"c":"red","t":919.1,"v":18.5},{"c":"red","t":923.7,"v":9.6},{"c":"red","t":932.7,"v":3.8},{"c":"red","t":943.8,"v":2.3},{"c":"red","t":955.5,"v":1.9},{"c":"red","t":970,"v":1.9}
],
"notes": [
{"label":"Reference Point (Red Line) remains","t":459,"v":112.3},
{"label":"on same point through out test","t":459,"v":108.5},
{"label":"Relative","t":752,"v":105.9},
{"label":"Accuracy","t":752,"v":101.4},
{"label":"A","t":121.7,"v":54.7},
{"label":"B","t":247.5,"v":64.2},
{"label":"C","t":379.6,"v":56.5},
{"label":"D","t":505.2,"v":20.8},
{"label":"E","t":648.9,"v":14.4}
],
"ring": [{"t":855.7,"v":106.7}]
},
"encoding": {
"x": {"field":"t","type":"quantitative","scale":{"domain":[-11.6,969.5],"nice":false,"zero":false},
 "axis":{"values":[0,60,120,180,240,300,360,420,480,540,600,660,720,780,840,900,960],
  "grid":true,"gridColor":"#990099","gridDash":[3,3],"gridWidth":1,
  "domain":true,"domainColor":"#808080","domainWidth":2,
  "ticks":true,"tickColor":"#000000","tickSize":8,"tickWidth":1,
  "labelExpr":"datum.value % 120 == 60 ? ['7/24/2007', '20:' + (42 + datum.value/60) + ':00 PM'] : ''",
  "labelFont":"Liberation Sans","labelFontSize":19,"labelColor":"#000000","labelPadding":1,
  "labelBaseline":"top","labelLineHeight":19,"labelAngle":0,"labelOverlap":false,"labelFlush":false,"title":null}},
"y": {"field":"v","type":"quantitative","scale":{"domain":[-4.49,116.54],"nice":false,"zero":false},
 "axis":{"values":[0,10,20,30,40,50,60,70,80,90,100,110],
  "grid":true,"gridColor":"#990099","gridDash":[3,3],"gridWidth":1,
  "domain":false,"ticks":true,"tickColor":"#000000","tickSize":23,"tickWidth":1,
  "labelFont":"Liberation Sans","labelFontSize":20,"labelColor":"#000000","labelPadding":10,
  "labelBaseline":"alphabetic","labelOverlap":false,
  "title":"ppm NOx","titleAngle":0,"titleX":-94,"titleY":958,"titleAlign":"left","titleBaseline":"middle",
  "titleFont":"Liberation Sans","titleFontSize":21,"titleFontWeight":"normal","titleColor":"#000000"}}
},
"layer": [
{"data":{"name":"lines"},
 "mark":{"type":"line","strokeWidth":2,"clip":true},
 "encoding":{"color":{"field":"c","type":"nominal","legend":null,
  "scale":{"domain":["olive","green","cyan","magenta","blue","black","red"],
   "range":["#808000","#00ff00","#00ffff","#ff00ff","#0000ff","#000000","#ff0000"]}}}},
{"data":{"name":"notes"},
 "mark":{"type":"text","font":"Liberation Sans","fontWeight":"bold","fontSize":25,"align":"center","baseline":"alphabetic","color":"#ff0000"},
 "encoding":{"text":{"field":"label"}}},
{"data":{"name":"ring"},
 "mark":{"type":"point","shape":"M-1,0A1,0.615,0,1,1,1,0A1,0.615,0,1,1,-1,0Z","size":40000,"filled":false,"stroke":"#999999","strokeWidth":3,"opacity":0.35,"xOffset":3,"yOffset":4}},
{"data":{"name":"ring"},
 "mark":{"type":"point","shape":"M-1,0A1,0.615,0,1,1,1,0A1,0.615,0,1,1,-1,0Z","size":40000,"filled":false,"stroke":"#e3161c","strokeWidth":2.5,"opacity":1}}
]
}
